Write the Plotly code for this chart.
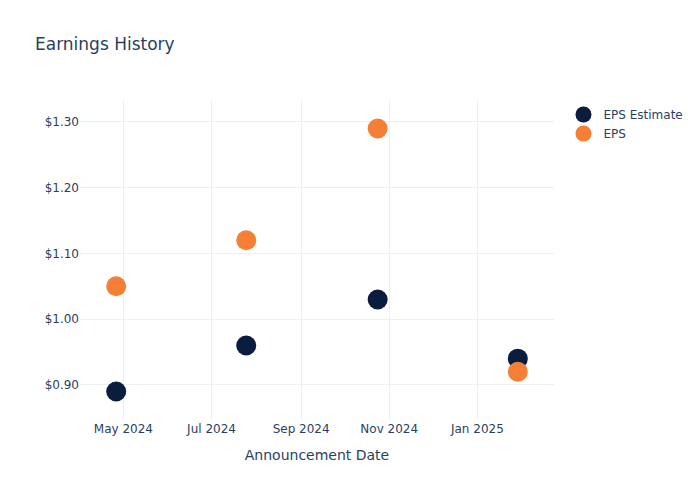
import plotly.graph_objects as go

# quarterly announcement dates and EPS values
dates = ['2024-04-26', '2024-07-25', '2024-10-24', '2025-01-29']
eps_estimate = [0.89, 0.96, 1.03, 0.94]
eps_actual = [1.05, 1.12, 1.29, 0.92]

fig = go.Figure()
fig.add_trace(go.Scatter(
    x=dates, y=eps_estimate, mode='markers', name='EPS Estimate',
    marker=dict(color='#0b1d3f', size=20)
))
fig.add_trace(go.Scatter(
    x=dates, y=eps_actual, mode='markers', name='EPS',
    marker=dict(color='#f58035', size=20)
))

fig.update_layout(
    template='plotly_white',
    font=dict(family='DejaVu Sans'),
    title=dict(text='Earnings History', x=0.05),
    width=700, height=500,
    xaxis=dict(title='Announcement Date', dtick='M2', tickformat='%b %Y'),
    yaxis=dict(tickformat='$.2f', dtick=0.1),
)
# drop the default page margin so the chart sits at the top-left corner
fig.write_html('out.html', config={'displayModeBar': False},
               post_script="document.body.style.margin='0';")
